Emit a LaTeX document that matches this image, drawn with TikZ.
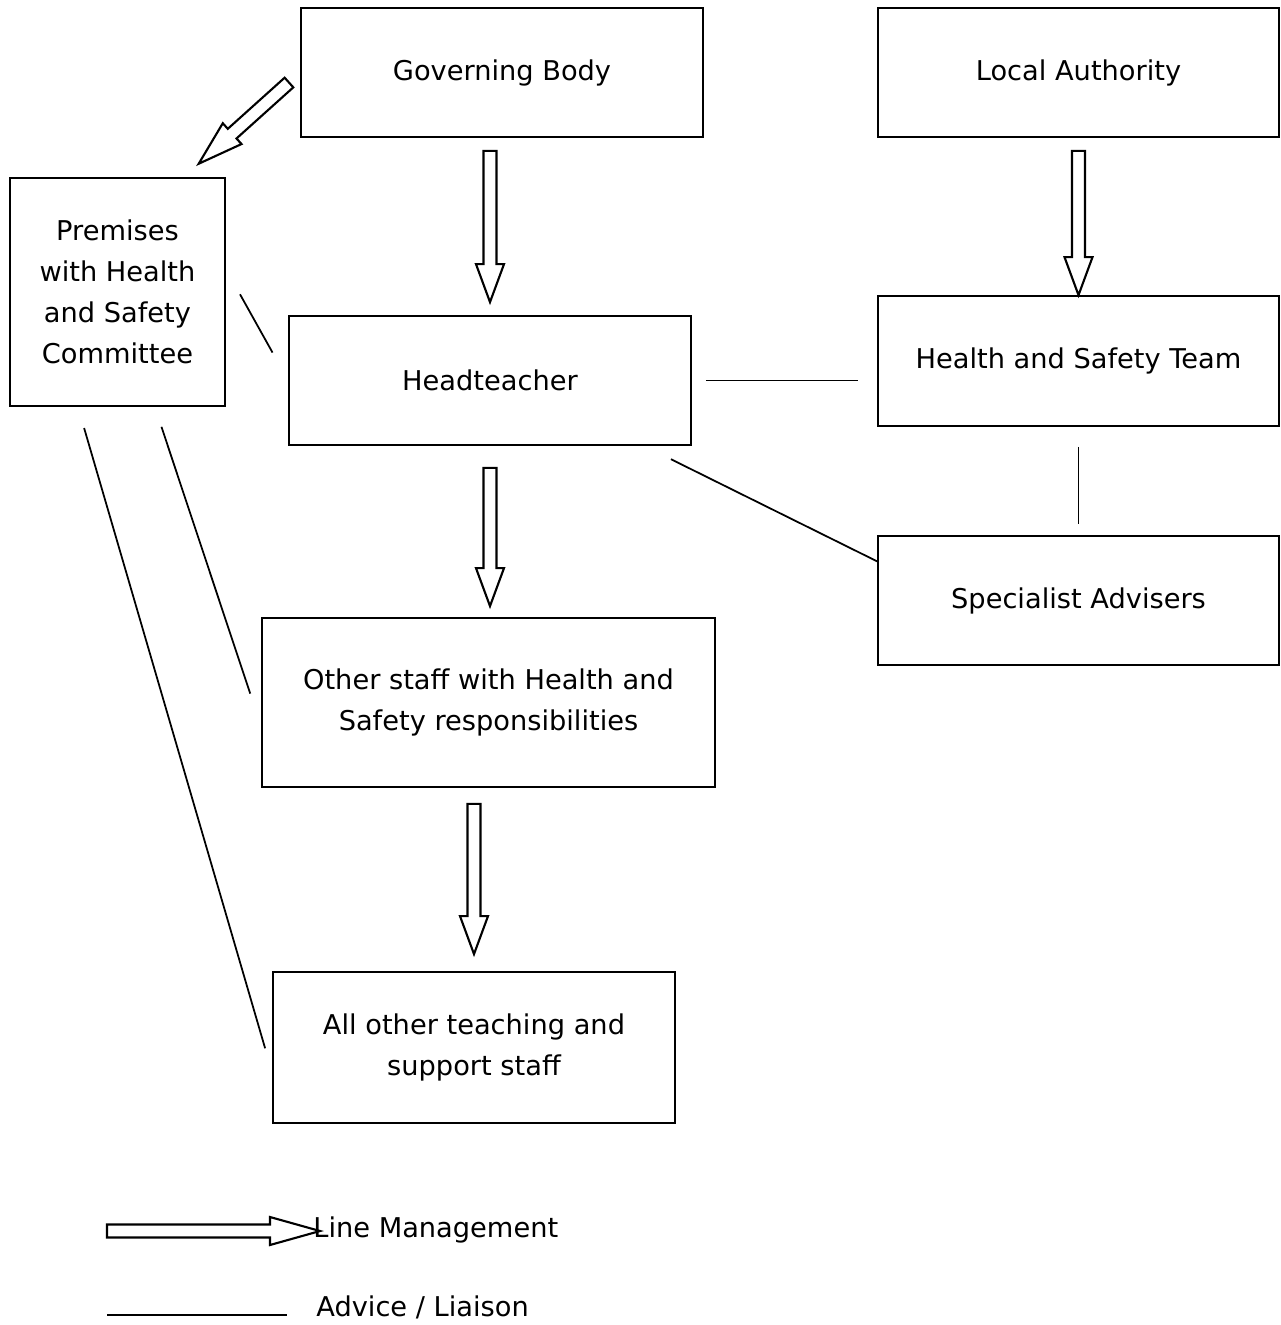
\documentclass[tikz,border=0pt]{standalone}
\usepackage{fontspec}
\setmainfont{DejaVu Sans}
\usetikzlibrary{calc}
\tikzset{
  box/.style={draw, line width=1pt, align=center, inner sep=2pt,
    font=\fontsize{15.5}{23.3}\selectfont},
  legend/.style={anchor=west, inner sep=0pt, font=\fontsize{15.5}{18}\selectfont},
  liaison/.style={line width=1pt},
  hollow/.style={draw, fill=white, line width=1.2pt, line join=miter},
}
% hollow arrow: [head length]{from}{to}{gap at start}{gap at end}
\newcommand\fatarrow[5][0.76cm]{%
  \path ($(#2)!#4!(#3)$) coordinate (fa1) ($(#3)!#5!(#2)$) coordinate (fa2);
  \path ($(fa2)!#1!(fa1)$) coordinate (fa3);
  \draw[hollow] ($(fa1)!0.13cm!90:(fa2)$) -- ($(fa3)!0.13cm!90:(fa2)$)
    -- ($(fa3)!0.28cm!90:(fa2)$) -- (fa2) -- ($(fa3)!0.28cm!-90:(fa2)$)
    -- ($(fa3)!0.13cm!-90:(fa2)$) -- ($(fa1)!0.13cm!-90:(fa2)$) -- cycle;}
\begin{document}
\begin{tikzpicture}
  \useasboundingbox (0,0) rectangle (25.6,-26.5);
  % Kaesten
  \node[box, minimum width=8.04cm, minimum height=2.58cm] (gov) at (10.04,-1.45) {Governing Body};
  \node[box, minimum width=8.02cm, minimum height=2.58cm] (la) at (21.57,-1.45) {Local Authority};
  \node[box, minimum width=4.30cm, minimum height=4.56cm] (prem) at (2.35,-5.84) {Premises\\with Health\\and Safety\\Committee};
  \node[box, minimum width=8.04cm, minimum height=2.58cm] (head) at (9.80,-7.61) {Headteacher};
  \node[box, minimum width=8.02cm, minimum height=2.60cm] (hst) at (21.57,-7.22) {Health and Safety Team};
  \node[box, minimum width=8.02cm, minimum height=2.58cm] (spec) at (21.57,-12.01) {Specialist Advisers};
  \node[box, minimum width=9.06cm, minimum height=3.38cm] (other) at (9.77,-14.05) {Other staff with Health and\\Safety responsibilities};
  \node[box, minimum width=8.04cm, minimum height=3.02cm] (all) at (9.48,-20.95) {All other teaching and\\support staff};
  % Linienmanagement
  \fatarrow[0.9cm]{gov.west}{prem.60}{0.3cm}{0.4cm}
  \fatarrow{gov.south -| head.north}{head.north}{0.26cm}{0.26cm}
  \fatarrow{la.south}{hst.north}{0.26cm}{0cm}
  \fatarrow{head.south}{head.south |- other.north}{0.44cm}{0.22cm}
  \fatarrow{other.south -| all.north}{all.north}{0.32cm}{0.34cm}
  % Beratung
  \draw[liaison, shorten <=0.58cm, shorten >=0.64cm] (prem.12) -- (head.west);
  \draw[liaison, shorten <=0.28cm, shorten >=0.38cm] (head.east) -- (head.east -| hst.west);
  \draw[liaison, shorten <=0.4cm, shorten >=0.22cm] (hst.south) -- (spec.north);
  \draw[liaison, shorten <=0.6cm] (head.-23.5) -- (spec.169);
  \draw[liaison, shorten <=0.42cm, shorten >=0.69cm] (prem.-72) -- (other.186);
  \draw[liaison, shorten <=0.44cm, shorten >=0.5cm] (prem.-109) -- (all.187.5);
  % Legende
  \node[legend] (lm) at (6.26,-24.6) {Line Management};
  \node[legend] (al) at (6.32,-26.14) {Advice / Liaison};
  \coordinate (lm0) at (2.14,-24.62);
  \coordinate (al0) at (2.14,-26.3);
  \fatarrow[1.0cm]{lm0}{lm0 -| lm.west}{0cm}{-0.14cm}
  \draw[liaison, shorten >=0.58cm] (al0) -- (al0 -| al.west);
\end{tikzpicture}
\end{document}
